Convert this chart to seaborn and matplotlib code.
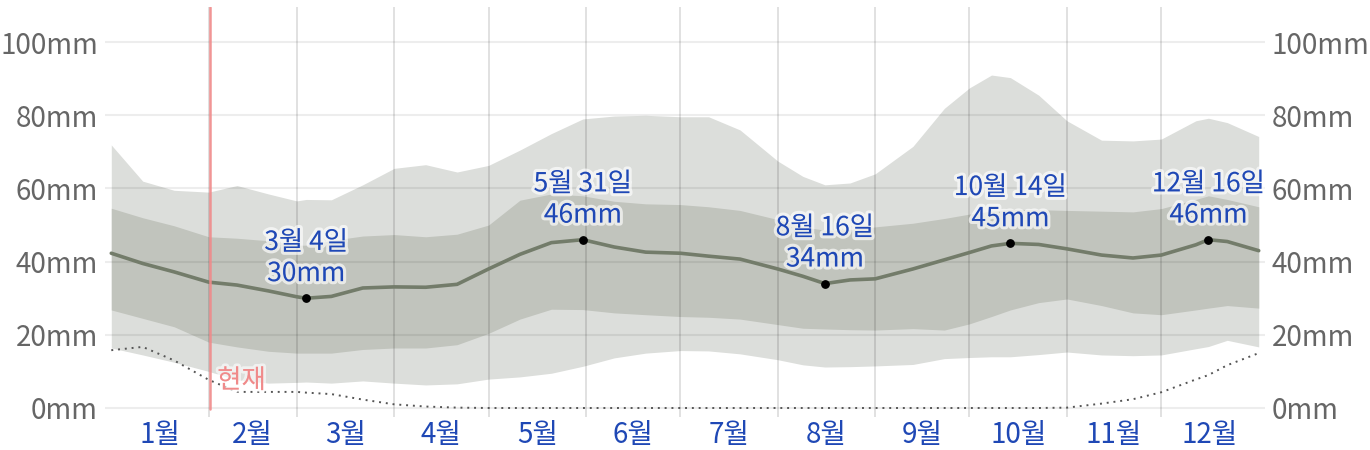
import numpy as np
import pandas as pd
import matplotlib
matplotlib.use("Agg")
import matplotlib.pyplot as plt
import matplotlib.patheffects as pe
import seaborn as sns

# ---- data (day of year, mm) ----
days = [0, 10, 20, 31, 40, 50, 59, 62, 70, 80, 90, 100, 110, 120, 130, 140, 150, 160,
        170, 181, 190, 200, 212, 220, 227, 235, 243, 255, 265, 273, 280, 286, 295, 304,
        315, 325, 334, 345, 349, 355, 365]
median = [42.3, 39.5, 37.2, 34.4, 33.6, 32.0, 30.4, 30.0, 30.5, 32.8, 33.1, 33.0, 33.8,
          38.0, 42.0, 45.2, 46.0, 44.0, 42.6, 42.3, 41.5, 40.7, 38.0, 36.0, 34.0, 35.0,
          35.3, 38.0, 40.5, 42.5, 44.3, 45.0, 44.7, 43.5, 41.8, 41.0, 41.8, 44.6, 46.0,
          45.5, 43.0]
p90 = [71.9, 62.0, 59.5, 59.0, 60.8, 58.5, 56.6, 57.0, 56.9, 61.0, 65.5, 66.5, 64.5,
       66.3, 70.5, 75.0, 79.0, 79.8, 80.0, 79.6, 79.6, 76.0, 67.5, 63.3, 61.0, 61.5,
       64.0, 71.5, 81.9, 87.5, 91.0, 90.3, 85.5, 78.5, 73.2, 73.0, 73.5, 78.5, 79.2,
       78.0, 74.2]
p75 = [54.6, 52.0, 49.8, 46.8, 46.4, 45.7, 44.5, 44.5, 45.8, 47.0, 47.4, 46.8, 47.5,
       50.0, 56.8, 58.5, 58.0, 56.5, 55.8, 55.6, 55.0, 54.0, 51.5, 49.5, 48.6, 48.8,
       49.5, 50.5, 51.8, 53.0, 53.8, 54.3, 54.2, 54.0, 53.8, 53.6, 54.5, 57.0, 58.0,
       57.0, 55.0]
p25 = [26.8, 24.5, 22.2, 18.0, 16.7, 15.5, 15.0, 15.0, 15.0, 16.0, 16.4, 16.4, 17.3,
       20.4, 24.3, 27.0, 26.9, 26.0, 25.5, 25.0, 24.8, 24.3, 22.8, 21.8, 21.6, 21.4,
       21.3, 21.7, 21.3, 23.0, 25.0, 26.8, 28.8, 29.8, 28.0, 26.0, 25.5, 26.8, 27.3,
       28.0, 27.3]
p10 = [16.4, 14.5, 12.5, 10.0, 7.7, 6.8, 7.0, 7.1, 6.8, 7.4, 6.8, 6.3, 6.6, 7.9, 8.5,
       9.5, 11.4, 13.7, 15.0, 15.7, 15.6, 14.8, 13.2, 11.8, 11.2, 11.3, 11.5, 11.9, 13.5,
       13.8, 14.0, 14.0, 14.6, 15.3, 14.5, 14.3, 14.5, 16.2, 16.8, 18.5, 16.7]
lowest = [15.8, 16.7, 13.0, 7.7, 4.4, 4.4, 4.4, 4.2, 3.8, 2.3, 1.0, 0.4, 0.1, 0.0, 0.0,
          0.0, 0.0, 0.0, 0.0, 0.0, 0.0, 0.0, 0.0, 0.0, 0.0, 0.0, 0.0, 0.0, 0.0, 0.0, 0.0,
          0.0, 0.0, 0.1, 1.2, 2.4, 4.3, 7.8, 9.0, 11.7, 15.0]

month_labels = ["1월", "2월", "3월", "4월", "5월", "6월", "7월", "8월", "9월", "10월", "11월", "12월"]
month_starts = [0, 31, 59, 90, 120, 151, 181, 212, 243, 273, 304, 334, 365]

peak_days = [62, 150, 227, 286, 349]
peak_vals = [30, 46, 34, 45, 46]
peak_texts = ["3월 4일\n30mm", "5월 31일\n46mm", "8월 16일\n34mm", "10월 14일\n45mm", "12월 16일\n46mm"]

now_day = 31.5
now_label = "현재"
ytick_vals = [0, 20, 40, 60, 80, 100]
ytick_labels = [f"{v}mm" for v in ytick_vals]

df = pd.DataFrame({"day": days, "median": median, "p90": p90, "p75": p75,
                   "p25": p25, "p10": p10, "lowest": lowest})

# ---- style ----
sns.set_theme(style="white")
plt.rcParams["font.family"] = ["Noto Sans CJK KR", "DejaVu Sans"]

fig = plt.figure(figsize=(13.7, 4.5), dpi=100)
ax = fig.add_axes([105 / 1370, 1 - 417 / 450, (1265 - 105) / 1370, (417 - 7) / 450])

light = "#dcdedb"
dark = "#c1c4bd"
line_c = "#737c6a"
blue = "#1f48b5"
gray_t = "#666666"

ax.fill_between(df["day"], df["p10"], df["p90"], color=light, lw=0, zorder=1)
ax.fill_between(df["day"], df["p25"], df["p75"], color=dark, lw=0, zorder=2)

for v in ytick_vals:
    ax.axhline(v, color="black", alpha=0.07, lw=1.5, zorder=3)
for d in month_starts[1:-1]:
    ax.axvline(d, color="black", alpha=0.13, lw=1.3, zorder=3)

sns.lineplot(data=df, x="day", y="median", color=line_c, lw=2.6, ax=ax, zorder=4)
sns.lineplot(data=df, x="day", y="lowest", color="#555555", lw=1.4, ax=ax, zorder=4,
             linestyle=(0, (1, 2.5)))

ax.axvline(now_day, ymin=0.02, color="#f08a8a", lw=1.8, zorder=5, alpha=0.9)
ax.text(now_day + 2.2, 7.5, now_label, color="#f08a8a", fontsize=19, va="center", ha="left",
        zorder=6, path_effects=[pe.withStroke(linewidth=4, foreground=(1, 1, 1, 0.6))])

ax.scatter(peak_days, peak_vals, color="black", s=28, zorder=7)
for d, v, t in zip(peak_days, peak_vals, peak_texts):
    ax.annotate(t, (d, v), xytext=(0, 8), textcoords="offset points", ha="center",
                va="bottom", color=blue, fontsize=19, fontweight="medium", linespacing=1.2,
                zorder=8,
                path_effects=[pe.withStroke(linewidth=4.5, foreground=(1, 1, 1, 0.65))])

ax.set_xlim(-2, 367)
ax.set_ylim(-2.46, 109.6)
centers = [(month_starts[i] + month_starts[i + 1]) / 2 for i in range(12)]
ax.set_xticks(centers)
ax.set_xticklabels(month_labels, color=blue, fontsize=20, fontweight="medium")
ax.set_yticks(ytick_vals)
ax.set_yticklabels(ytick_labels, color=gray_t, fontsize=20, fontweight="medium")
ax.tick_params(axis="both", length=0)
ax.tick_params(axis="x", pad=2)
ax.tick_params(axis="y", pad=5, labelright=True, right=False)
ax.set_xlabel("")
ax.set_ylabel("")
for s in ax.spines.values():
    s.set_visible(False)
ax.grid(False)

fig.savefig("out.png", dpi=100)
